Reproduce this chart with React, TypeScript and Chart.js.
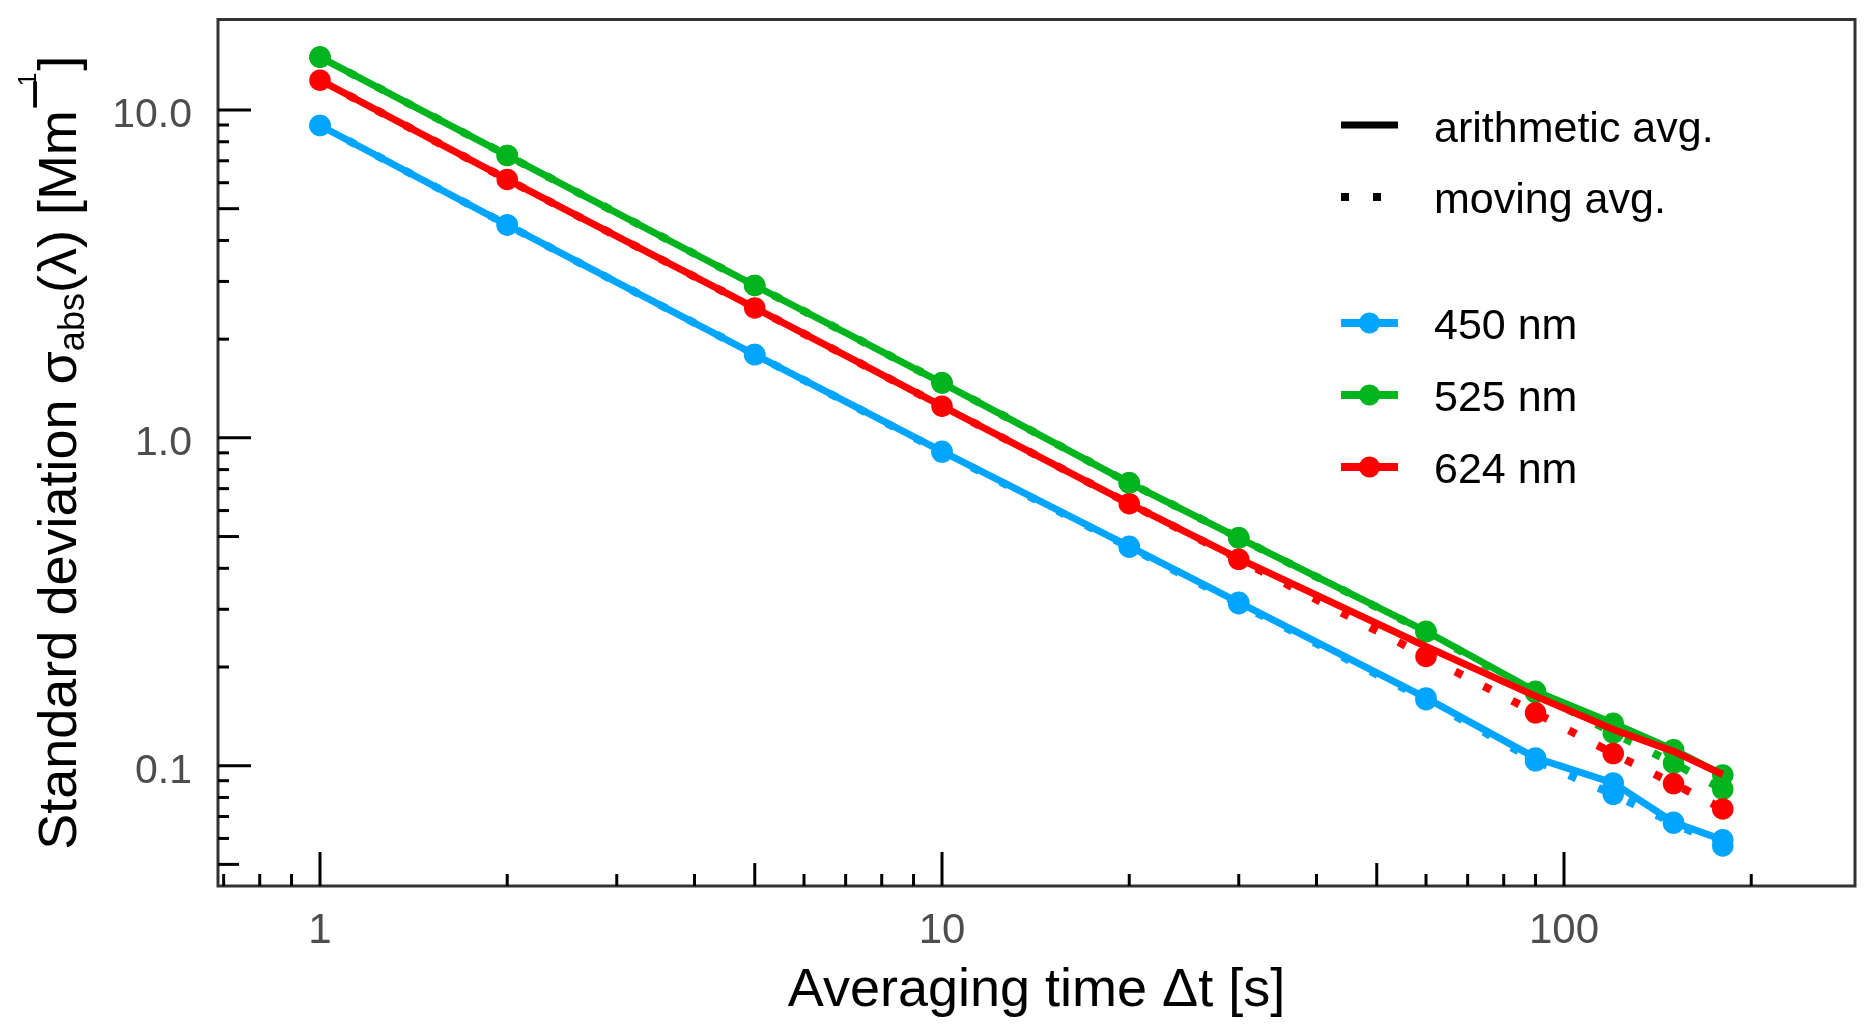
import React, { useEffect, useRef } from "react";
import { Chart, registerables } from "chart.js";

Chart.register(...registerables);

// ---- data ----
const X_VALUES = [1, 2, 5, 10, 20, 30, 60, 90, 120, 150, 180];
const BLUE_ARITH = [8.97, 4.46, 1.795, 0.91, 0.467, 0.315, 0.161, 0.1056, 0.0886, 0.0672, 0.0594];
const BLUE_MOVING = [8.97, 4.46, 1.795, 0.905, 0.464, 0.312, 0.159, 0.1035, 0.0818, 0.0668, 0.0569];
const GREEN_ARITH = [14.5, 7.27, 2.915, 1.472, 0.729, 0.4955, 0.257, 0.1686, 0.1347, 0.1119, 0.0937];
const GREEN_MOVING = [14.5, 7.27, 2.915, 1.472, 0.729, 0.4955, 0.256, 0.167, 0.1259, 0.1018, 0.0848];
const RED_ARITH = [12.33, 6.14, 2.49, 1.249, 0.63, 0.4284, 0.231, 0.163, 0.129, 0.1106, 0.094];
const RED_MOVING = [12.33, 6.14, 2.49, 1.249, 0.63, 0.426, 0.2155, 0.145, 0.1089, 0.0882, 0.0738];

const X_MAJOR = [1, 10, 100];
const X_MEDIUM = [5, 50];
const X_MINOR = [0.7, 0.8, 0.9, 2, 3, 4, 6, 7, 8, 9, 20, 30, 40, 60, 70, 80, 90, 200];
const X_TICK_LABELS = ["1", "10", "100"];

const Y_MAJOR = [0.1, 1, 10];
const Y_MEDIUM = [0.05, 0.5, 5];
const Y_MINOR = [0.06, 0.07, 0.08, 0.09, 0.2, 0.3, 0.4, 0.6, 0.7, 0.8, 0.9, 2, 3, 4, 6, 7, 8, 9];
const Y_TICK_LABELS = ["0.1", "1.0", "10.0"];

const LEGEND_STYLE_LABELS = ["arithmetic avg.", "moving avg."];
const LEGEND_SERIES_LABELS = ["450 nm", "525 nm", "624 nm"];
const X_TITLE = "Averaging time \u0394t [s]";

const BLUE = "#00a5ff";
const GREEN = "#00b41e";
const RED = "#ff0000";
const SERIES_COLORS = [BLUE, GREEN, RED];

const FONT = "'Liberation Sans', Arial, Helvetica, sans-serif";

const W = 1871;
const H = 1035;
const AREA = { left: 218, right: 1855, top: 19.5, bottom: 886 };

const pts = (ys: number[]) => X_VALUES.map((x, i) => ({ x, y: ys[i] }));

const decorPlugin = {
  id: "decor",
  afterDraw(chart: any) {
    const ctx: CanvasRenderingContext2D = chart.ctx;
    const xs = chart.scales.x;
    const ys = chart.scales.y;
    const ca = chart.chartArea;
    ctx.save();

    // frame
    ctx.strokeStyle = "#333333";
    ctx.lineWidth = 3;
    ctx.strokeRect(ca.left, ca.top, ca.right - ca.left, ca.bottom - ca.top);

    // ticks (inward)
    ctx.strokeStyle = "#000";
    ctx.lineWidth = 3;
    ctx.lineCap = "butt";
    const xt = (vals: number[], len: number) => {
      vals.forEach((v) => {
        const px = xs.getPixelForValue(v);
        if (px < ca.left || px > ca.right) return;
        ctx.beginPath();
        ctx.moveTo(px, ca.bottom);
        ctx.lineTo(px, ca.bottom - len);
        ctx.stroke();
      });
    };
    const yt = (vals: number[], len: number) => {
      vals.forEach((v) => {
        const py = ys.getPixelForValue(v);
        if (py < ca.top || py > ca.bottom) return;
        ctx.beginPath();
        ctx.moveTo(ca.left, py);
        ctx.lineTo(ca.left + len, py);
        ctx.stroke();
      });
    };
    xt(X_MAJOR, 34);
    xt(X_MEDIUM, 23);
    xt(X_MINOR, 12);
    yt(Y_MAJOR, 33);
    yt(Y_MEDIUM, 21);
    yt(Y_MINOR, 11);

    // tick labels
    ctx.fillStyle = "#4d4d4d";
    ctx.font = `42px ${FONT}`;
    ctx.textAlign = "center";
    ctx.textBaseline = "alphabetic";
    X_MAJOR.forEach((v, i) => {
      ctx.fillText(X_TICK_LABELS[i], xs.getPixelForValue(v), 943);
    });
    ctx.font = `41px ${FONT}`;
    ctx.textAlign = "right";
    Y_MAJOR.forEach((v, i) => {
      ctx.fillText(Y_TICK_LABELS[i], 192, ys.getPixelForValue(v) + 17);
    });

    // x title
    ctx.fillStyle = "#000";
    ctx.font = `54px ${FONT}`;
    ctx.textAlign = "center";
    ctx.fillText(X_TITLE, (ca.left + ca.right) / 2, 1006);

    // y title with sub/superscripts
    const runs = [
      { t: "Standard deviation \u03c3", size: 54, dy: 0, dx: 0 },
      { t: "abs", size: 36, dy: 8, dx: 0 },
      { t: "(\u03bb) [Mm", size: 54, dy: 0, dx: 0 },
      { t: "\u2212", size: 54, dy: -23, dx: 0 },
      { t: "1", size: 25, dy: -40, dx: -8 },
      { t: "]", size: 54, dy: 0, dx: 2 },
    ];
    let total = 0;
    const widths = runs.map((r) => {
      ctx.font = `${r.size}px ${FONT}`;
      const w = ctx.measureText(r.t).width;
      total += w + r.dx;
      return w;
    });
    ctx.save();
    ctx.translate(76, (ca.top + ca.bottom) / 2);
    ctx.rotate(-Math.PI / 2);
    ctx.textAlign = "left";
    let cx = -total / 2;
    runs.forEach((r, i) => {
      cx += r.dx;
      ctx.font = `${r.size}px ${FONT}`;
      ctx.fillText(r.t, cx, r.dy);
      cx += widths[i];
    });
    ctx.restore();

    // legend
    const lx0 = 1341;
    const lx1 = 1398;
    const tx = 1434;
    ctx.font = `43px ${FONT}`;
    ctx.textAlign = "left";
    ctx.fillStyle = "#000";
    // arithmetic
    ctx.strokeStyle = "#000";
    ctx.lineWidth = 7;
    ctx.beginPath();
    ctx.moveTo(lx0, 125);
    ctx.lineTo(lx1, 125);
    ctx.stroke();
    ctx.fillText(LEGEND_STYLE_LABELS[0], tx, 142);
    // moving
    ctx.fillRect(lx0, 193, 8, 8);
    ctx.fillRect(lx0 + 32, 193, 8, 8);
    ctx.fillText(LEGEND_STYLE_LABELS[1], tx, 213);
    // series
    const rowY = [323, 395, 467];
    LEGEND_SERIES_LABELS.forEach((lab, i) => {
      const y = rowY[i];
      ctx.strokeStyle = SERIES_COLORS[i];
      ctx.fillStyle = SERIES_COLORS[i];
      ctx.lineWidth = 8;
      ctx.beginPath();
      ctx.moveTo(lx0, y);
      ctx.lineTo(lx1, y);
      ctx.stroke();
      ctx.beginPath();
      ctx.arc((lx0 + lx1) / 2, y, 10.5, 0, Math.PI * 2);
      ctx.fill();
      ctx.fillStyle = "#000";
      ctx.fillText(lab, tx, y + 16);
    });

    ctx.restore();
  },
};

export default function App() {
  const ref = useRef<HTMLCanvasElement | null>(null);

  useEffect(() => {
    if (!ref.current) return;
    const solid = (data: number[], color: string, points: boolean) => ({
      data: pts(data),
      borderColor: color,
      backgroundColor: color,
      borderWidth: 7,
      pointRadius: points ? 10 : 0,
      pointBorderWidth: 1.5,
      pointBackgroundColor: color,
      pointBorderColor: color,
      pointHoverRadius: points ? 10 : 0,
      tension: 0,
      fill: false,
    });
    const dotted = (data: number[], color: string) => ({
      data: pts(data),
      borderColor: color,
      backgroundColor: color,
      borderWidth: 8,
      borderDash: [8, 24],
      borderCapStyle: "butt" as const,
      pointRadius: 10,
      pointBorderWidth: 1.5,
      pointBackgroundColor: color,
      pointBorderColor: color,
      pointHoverRadius: 10,
      tension: 0,
      fill: false,
    });

    const chart = new Chart(ref.current, {
      type: "line",
      data: {
        datasets: [
          solid(RED_ARITH, RED, false),
          solid(GREEN_ARITH, GREEN, true),
          solid(BLUE_ARITH, BLUE, true),
          dotted(RED_MOVING, RED),
          dotted(GREEN_MOVING, GREEN),
          dotted(BLUE_MOVING, BLUE),
        ] as any,
      },
      options: {
        animation: false,
        responsive: false,
        devicePixelRatio: 1,
        events: [],
        layout: { padding: { top: AREA.top, right: W - AREA.right, left: 0, bottom: 0 } },
        plugins: {
          legend: { display: false },
          tooltip: { enabled: false },
          title: { display: false },
        },
        scales: {
          x: {
            type: "logarithmic",
            min: Math.pow(10, (AREA.left - 320) / 622),
            max: Math.pow(10, (AREA.right - 320) / 622),
            grid: { display: false, drawTicks: false },
            border: { display: false },
            ticks: { display: false },
            afterFit: (s: any) => {
              s.height = H - AREA.bottom;
            },
          },
          y: {
            type: "logarithmic",
            min: 0.04296,
            max: 18.88,
            grid: { display: false, drawTicks: false },
            border: { display: false },
            ticks: { display: false },
            afterFit: (s: any) => {
              s.width = AREA.left;
            },
          },
        },
      } as any,
      plugins: [decorPlugin],
    });
    return () => chart.destroy();
  }, []);

  return (
    <div style={{ position: "fixed", left: 0, top: 0, width: W, height: H, background: "#fff" }}>
      <canvas ref={ref} width={W} height={H} style={{ display: "block", width: W, height: H }} />
    </div>
  );
}
